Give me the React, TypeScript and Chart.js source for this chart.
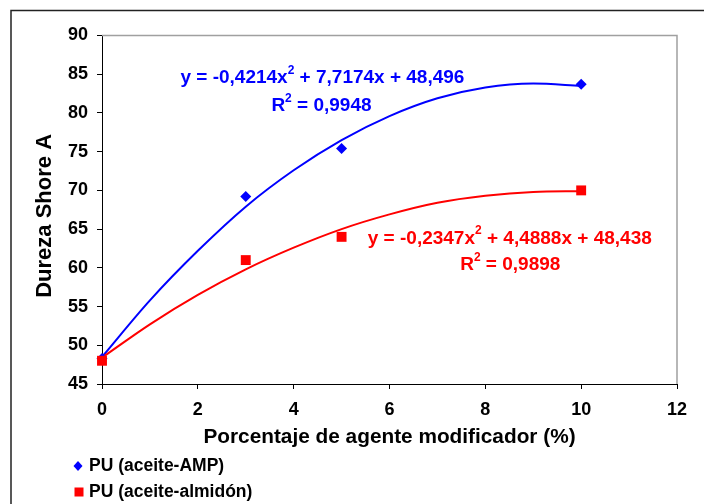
import React, { useEffect, useRef } from "react";
import { Chart, registerables } from "chart.js";

Chart.register(...registerables);

// Measured points
const pointX = [0, 3, 5, 10];
const ampValues = [48.3, 69.2, 75.4, 83.7];
const almidonValues = [48.0, 61.0, 64.0, 70.0];

// Trend curves read along the drawn polynomial trendlines
const trendX = [0, 1, 2, 3, 4, 5, 6, 7, 8, 9, 10];
const ampTrend = [48.5, 55.8, 62.2, 67.9, 72.6, 76.5, 79.6, 81.9, 83.3, 83.8, 83.5];
const almidonTrend = [48.4, 52.7, 56.5, 59.8, 62.6, 65.0, 66.9, 68.4, 69.3, 69.8, 69.9];

const seriesNames = ["PU (aceite-AMP)", "PU (aceite-almidón)"];
const seriesColors = ["#0000FF", "#FF0000"];
const eqTexts = [
  ["y = -0,4214x", "2", " + 7,7174x + 48,496"],
  ["y = -0,2347x", "2", " + 4,4888x + 48,438"],
];
const r2Texts = ["0,9948", "0,9898"];
const eqAnchors = [
  [4.6, 84.5, 4.58, 80.9],
  [8.51, 63.8, 8.52, 60.4],
];

const xTitle = "Porcentaje de agente modificador (%)";
const yTitle = "Dureza Shore A  ";

const FAMILY = "Arial, 'Liberation Sans', sans-serif";

function drawSupText(ctx: CanvasRenderingContext2D, parts: string[], cx: number, cy: number, size: number, color: string) {
  const main = `bold ${size}px ${FAMILY}`;
  const sup = `bold ${Math.round(size * 0.62)}px ${FAMILY}`;
  ctx.font = main;
  const w0 = ctx.measureText(parts[0]).width;
  const w2 = ctx.measureText(parts[2]).width;
  ctx.font = sup;
  const w1 = ctx.measureText(parts[1]).width;
  const total = w0 + w1 + w2;
  let x = cx - total / 2;
  ctx.fillStyle = color;
  ctx.textBaseline = "middle";
  ctx.textAlign = "left";
  ctx.font = main;
  ctx.fillText(parts[0], x, cy);
  x += w0;
  ctx.font = sup;
  ctx.fillText(parts[1], x, cy - size * 0.38);
  x += w1;
  ctx.font = main;
  ctx.fillText(parts[2], x, cy);
}

const decorPlugin = {
  id: "decor",
  beforeDraw(chart: any) {
    const ctx = chart.ctx;
    ctx.save();
    ctx.fillStyle = "#ffffff";
    ctx.fillRect(0, 0, chart.width, chart.height);
    ctx.strokeStyle = "#222222";
    ctx.lineWidth = 1.5;
    ctx.strokeRect(11, 10.5, 900, 700);
    ctx.restore();
  },
  beforeDatasetsDraw(chart: any) {
    const { ctx, chartArea } = chart;
    ctx.save();
    ctx.strokeStyle = "#a0a0a0";
    ctx.lineWidth = 1.5;
    ctx.beginPath();
    ctx.moveTo(chartArea.left, chartArea.top);
    ctx.lineTo(chartArea.right, chartArea.top);
    ctx.lineTo(chartArea.right, chartArea.bottom);
    ctx.stroke();
    ctx.restore();
  },
  afterDraw(chart: any) {
    const ctx = chart.ctx;
    const xs = chart.scales.x;
    const ys = chart.scales.y;
    ctx.save();
    eqAnchors.forEach((a, i) => {
      drawSupText(ctx, eqTexts[i], xs.getPixelForValue(a[0]), ys.getPixelForValue(a[1]), 19, seriesColors[i]);
      drawSupText(ctx, ["R", "2", " = " + r2Texts[i]], xs.getPixelForValue(a[2]), ys.getPixelForValue(a[3]), 19, seriesColors[i]);
    });
    // legend
    const lx = 78;
    const ly = [466, 492];
    seriesNames.forEach((name, i) => {
      ctx.fillStyle = seriesColors[i];
      if (i === 0) {
        ctx.beginPath();
        ctx.moveTo(lx, ly[i] - 5);
        ctx.lineTo(lx + 4.5, ly[i]);
        ctx.lineTo(lx, ly[i] + 5);
        ctx.lineTo(lx - 4.5, ly[i]);
        ctx.closePath();
        ctx.fill();
      } else {
        ctx.fillRect(lx - 3.5, ly[i] - 4.5, 9, 9);
      }
      ctx.fillStyle = "#000000";
      ctx.font = `bold 17.5px ${FAMILY}`;
      ctx.textAlign = "left";
      ctx.textBaseline = "middle";
      ctx.fillText(name, 89, ly[i]);
    });
    ctx.restore();
  },
};

export default function App() {
  const ref = useRef<HTMLCanvasElement | null>(null);
  useEffect(() => {
    if (!ref.current) return;
    const toXY = (xs: number[], ys: number[]) => xs.map((x, i) => ({ x, y: ys[i] }));
    const chart = new Chart(ref.current, {
      type: "scatter",
      data: {
        datasets: [
          {
            label: seriesNames[0],
            data: toXY(pointX, ampValues),
            pointStyle: "rectRot",
            pointRadius: 5.5,
            backgroundColor: seriesColors[0],
            borderColor: seriesColors[0],
            borderWidth: 0,
            showLine: false,
            clip: false,
            order: 1,
          },
          {
            label: seriesNames[1],
            data: toXY(pointX, almidonValues),
            pointStyle: "rect",
            pointRadius: 7,
            backgroundColor: seriesColors[1],
            borderColor: seriesColors[1],
            borderWidth: 0,
            showLine: false,
            clip: false,
            order: 0,
          },
          {
            label: "trend AMP",
            data: toXY(trendX, ampTrend),
            showLine: true,
            pointRadius: 0,
            borderColor: seriesColors[0],
            borderWidth: 2,
            cubicInterpolationMode: "monotone",
            fill: false,
            order: 3,
          },
          {
            label: "trend almidon",
            data: toXY(trendX, almidonTrend),
            showLine: true,
            pointRadius: 0,
            borderColor: seriesColors[1],
            borderWidth: 2,
            cubicInterpolationMode: "monotone",
            fill: false,
            order: 2,
          },
        ],
      },
      options: {
        responsive: false,
        animation: false,
        layout: { padding: { top: 35.5, right: 27, left: 0, bottom: 0 } },
        plugins: { legend: { display: false }, tooltip: { enabled: false } },
        scales: {
          x: {
            type: "linear",
            min: 0,
            max: 12,
            ticks: { stepSize: 2, color: "#000", padding: 10, font: { family: FAMILY, size: 18, weight: "bold" } },
            grid: { drawOnChartArea: false, drawTicks: true, tickLength: 5, color: "#000" },
            border: { display: true, color: "#000", width: 1 },
            title: {
              display: true,
              text: xTitle,
              color: "#000",
              font: { family: FAMILY, size: 20.8, weight: "bold" },
              padding: { top: 0, bottom: 54 },
            },
            afterFit: (s: any) => {
              s.height = 120;
            },
          },
          y: {
            type: "linear",
            min: 45,
            max: 90,
            ticks: { stepSize: 5, color: "#000", padding: 9, font: { family: FAMILY, size: 18, weight: "bold" } },
            grid: { drawOnChartArea: false, drawTicks: true, tickLength: 5, color: "#000" },
            border: { display: true, color: "#000", width: 1 },
            title: {
              display: true,
              text: yTitle,
              color: "#000",
              font: { family: FAMILY, size: 22, weight: "bold" },
              padding: { top: 32, bottom: 0 },
            },
            afterFit: (s: any) => {
              s.width = 102;
            },
          },
        },
      },
      plugins: [decorPlugin],
    } as any);
    return () => chart.destroy();
  }, []);
  return (
    <div style={{ position: "absolute", left: 0, top: 0, width: 704, height: 504 }}>
      <canvas ref={ref} width={704} height={504} style={{ display: "block" }} />
    </div>
  );
}
